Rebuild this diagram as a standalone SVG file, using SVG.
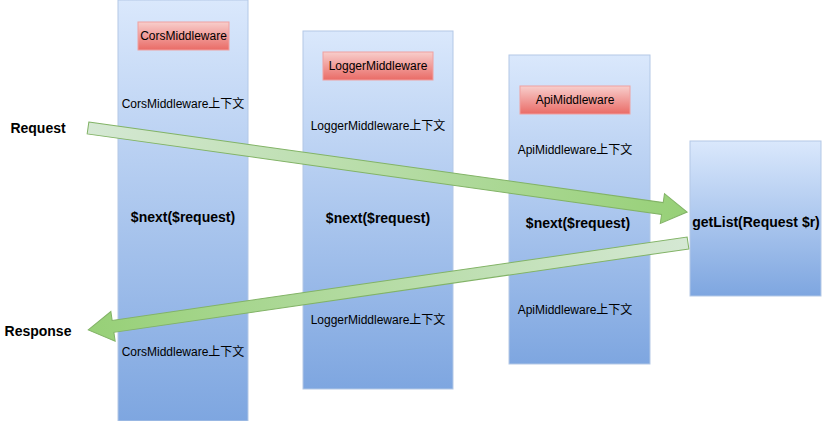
<svg xmlns="http://www.w3.org/2000/svg" width="827" height="421" viewBox="0 0 827 421">
<defs>
<linearGradient id="blue" x1="0" y1="0" x2="0" y2="1"><stop offset="0" stop-color="#dae8fc"/><stop offset="1" stop-color="#7ea6e0"/></linearGradient>
<linearGradient id="red" x1="0" y1="0" x2="0" y2="1"><stop offset="0" stop-color="#f8cecc"/><stop offset="1" stop-color="#ea6b66"/></linearGradient>
<linearGradient id="green" x1="0" y1="0" x2="1" y2="0"><stop offset="0" stop-color="#d5e8d4"/><stop offset="1" stop-color="#97d077"/></linearGradient>
<style>
.col{fill:url(#blue);stroke:#b3c8e6;stroke-width:1}
.lbl{fill:url(#red);stroke:#f0a0a0;stroke-width:1}
text{font-family:"Liberation Sans","Noto Sans CJK SC",sans-serif;fill:#000;text-anchor:middle}
.s{font-size:12px}
.b{font-size:14px;font-weight:bold}
.arr{fill:url(#green);stroke:#82b366;stroke-width:1}
</style>
</defs>
<rect width="827" height="421" fill="#fff"/>
<g id="cors">
<rect class="col" x="118" y="0" width="130" height="421"/>
<rect class="lbl" x="138" y="22" width="91" height="28"/>
<text class="s" x="183.5" y="40">CorsMiddleware</text>
<text class="s" x="183" y="108">CorsMiddleware上下文</text>
<text class="b" x="183" y="222">$next($request)</text>
<text class="s" x="183" y="356">CorsMiddleware上下文</text>
</g>
<g id="logger">
<rect class="col" x="303" y="31" width="150" height="358"/>
<rect class="lbl" x="323" y="52" width="110" height="28"/>
<text class="s" x="378" y="70">LoggerMiddleware</text>
<text class="s" x="378" y="130">LoggerMiddleware上下文</text>
<text class="b" x="378" y="223">$next($request)</text>
<text class="s" x="378" y="324">LoggerMiddleware上下文</text>
</g>
<g id="api">
<rect class="col" x="509" y="55" width="141" height="309"/>
<rect class="lbl" x="520" y="86" width="110" height="28"/>
<text class="s" x="575" y="104">ApiMiddleware</text>
<text class="s" x="575" y="154">ApiMiddleware上下文</text>
<text class="b" x="578" y="228">$next($request)</text>
<text class="s" x="575" y="314">ApiMiddleware上下文</text>
</g>
<g id="getlist">
<rect class="col" x="690" y="141" width="131" height="155"/>
<text class="b" x="756" y="227">getList(Request $r)</text>
</g>
<g id="request"><text class="b" x="38" y="133">Request</text></g>
<g id="response"><text class="b" x="38" y="336">Response</text></g>
<g id="connectors">
<polygon class="arr" transform="translate(88,128) rotate(7.98)" points="0,-6 580,-6 580,-15 605,0 580,15 580,6 0,6"/>
<polygon class="arr" transform="translate(688,243) rotate(171.75)" points="0,-6 581,-6 581,-15 606,0 581,15 581,6 0,6"/>
</g>
</svg>
